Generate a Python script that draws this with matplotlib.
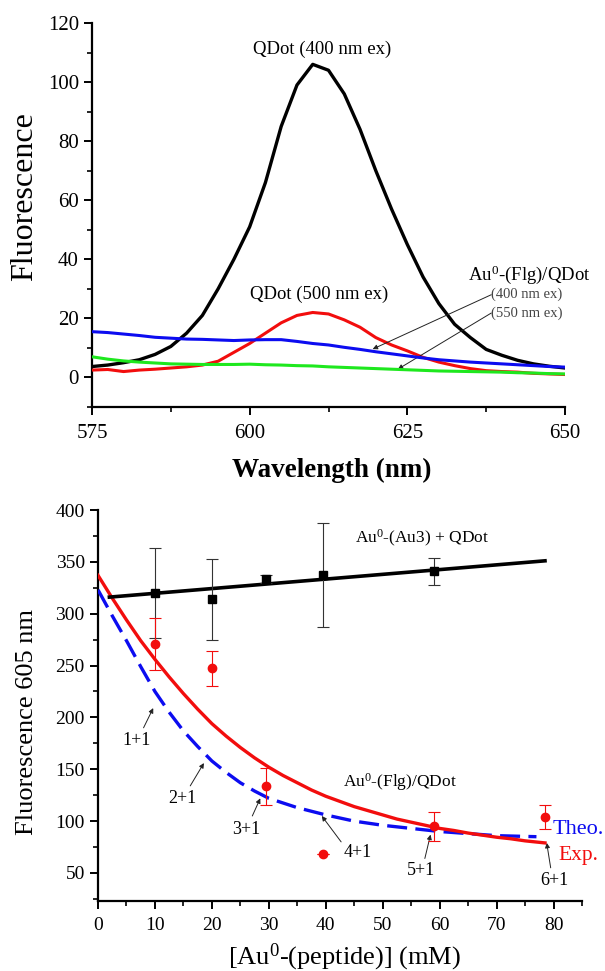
import matplotlib
matplotlib.use("Agg")
import matplotlib.pyplot as plt
from matplotlib.ticker import MultipleLocator

plt.rcParams['font.family'] = ['Liberation Serif', 'DejaVu Serif']
plt.rcParams['mathtext.fontset'] = 'custom'
plt.rcParams['mathtext.rm'] = 'Liberation Serif'
plt.rcParams['mathtext.it'] = 'Liberation Serif:italic'
plt.rcParams['mathtext.bf'] = 'Liberation Serif:bold'

# ---------------- Top panel data (emission spectra) ----------------
wavelength = [575, 577.5, 580, 582.5, 585, 587.5, 590, 592.5, 595, 597.5, 600,
              602.5, 605, 607.5, 610, 612.5, 615, 617.5, 620, 622.5, 625,
              627.5, 630, 632.5, 635, 637.5, 640, 642.5, 645, 647.5, 650]
qdot_400 = [3.7, 4.2, 5.0, 6.0, 7.8, 10.5, 15, 21, 30, 40, 51,
            66, 85, 99, 106, 104, 96, 84, 70, 57, 45,
            34, 25, 18, 13.5, 9.5, 7.5, 5.8, 4.6, 3.8, 3.2]
qdot_500 = [2.5, 2.7, 2.0, 2.5, 2.8, 3.2, 3.6, 4.2, 5.5, 8.5, 11.5,
            15, 18.5, 21, 22, 21.5, 19.5, 17, 13.5, 11, 9,
            6.8, 5.2, 4.0, 3.0, 2.3, 2.0, 1.8, 1.4, 1.2, 1.0]
au_flg_400 = [15.5, 15.2, 14.7, 14.2, 13.6, 13.3, 13.0, 12.9, 12.7, 12.5, 12.7,
              12.8, 12.8, 12.2, 11.5, 11.0, 10.2, 9.5, 8.7, 8.0, 7.3,
              6.6, 6.0, 5.6, 5.2, 4.9, 4.6, 4.3, 4.0, 3.7, 3.5]
au_flg_550 = [7.0, 6.2, 5.6, 5.2, 4.9, 4.6, 4.5, 4.4, 4.4, 4.4, 4.5,
              4.3, 4.2, 4.0, 3.9, 3.6, 3.4, 3.2, 3.0, 2.8, 2.6,
              2.4, 2.2, 2.1, 2.0, 1.9, 1.8, 1.6, 1.5, 1.3, 1.2]

# ---------------- Bottom panel data ----------------
conc_pts = [10, 20, 29.5, 39.5, 59, 78.5]
au3_x = [10, 20, 29.5, 39.5, 59]
au3_y = [320, 314, 333.5, 337, 341]
au3_err = [43, 39, 4, 50, 13]
au3_fit_x = [2, 78.5]
au3_fit_y = [316, 351]

exp_y = [270.5, 247.5, 133.5, 68, 95, 104]
exp_err = [25, 17, 18, 0, 14, 11.5]

exp_fit_x = [0, 2.5, 5, 7.5, 10, 12.5, 15, 17.5, 20, 22.5, 25, 27.5, 30, 32.5,
             35, 37.5, 40, 42.5, 45, 47.5, 50, 52.5, 55, 57.5, 60, 62.5, 65,
             67.5, 70, 72.5, 75, 78.5]
exp_fit_y = [337, 315, 294, 274, 256, 239, 223, 208, 194, 182, 171, 161, 152,
             144, 137, 130, 124, 119, 114, 110, 106, 102, 99, 96, 93, 91, 88.5,
             86.5, 84.5, 83, 81, 79]

theo_x = [0, 2.5, 5, 7.5, 10, 12.5, 15, 17.5, 20, 22.5, 25, 27.5, 30, 35,
          40, 45, 50, 55, 60, 65, 70, 77]
theo_y = [323, 298, 274, 249, 225, 205, 187, 172, 158, 147, 137, 129, 122,
          113, 106, 100, 96, 93, 90, 88, 86, 85]

step_labels = ['1+1', '2+1', '3+1', '4+1', '5+1', '6+1']

BLACK = '#000000'
RED = '#f20d0d'
BLUE = '#0c0cf0'
GREEN = '#1ee81e'

W, H = 605, 971
fig = plt.figure(figsize=(W / 100, H / 100), dpi=100)

def px_axes(left, right, top, bottom):
    return fig.add_axes([left / W, 1 - bottom / H, (right - left) / W, (bottom - top) / H])

def style(ax, fs):
    for s in ['top', 'right']:
        ax.spines[s].set_visible(False)
    for s in ['left', 'bottom']:
        ax.spines[s].set_linewidth(1.6)
    ax.tick_params(which='major', direction='out', length=5.5, width=1.4, labelsize=fs, pad=4)
    ax.tick_params(which='minor', direction='out', length=3.5, width=1.2)

# ---------------- Top panel ----------------
ax1 = px_axes(92, 565, 23, 407)
ax1.plot(wavelength, qdot_400, color=BLACK, lw=2.4, zorder=3)
ax1.plot(wavelength, qdot_500, color=RED, lw=2.2, zorder=3)
ax1.plot(wavelength, au_flg_400, color=BLUE, lw=2.2, zorder=4)
ax1.plot(wavelength, au_flg_550, color=GREEN, lw=2.2, zorder=4)
ax1.set_xlim(575, 650)
ax1.set_ylim(-10, 120)
ax1.xaxis.set_major_locator(MultipleLocator(25))
ax1.xaxis.set_minor_locator(MultipleLocator(12.5))
ax1.yaxis.set_major_locator(MultipleLocator(20))
ax1.yaxis.set_minor_locator(MultipleLocator(10))
style(ax1, 15)
ax1.tick_params(axis='x', pad=7)

ax1.text(611.5, 111, 'QDot (400 nm ex)', ha='center', va='center', fontsize=13.5)
ax1.text(611, 28, 'QDot (500 nm ex)', ha='center', va='center', fontsize=13.5)
ax1.text(634.6, 34.8, r'Au$^0$-(Flg)/QDot', ha='left', va='center', fontsize=13.5, clip_on=False)
ax1.text(638.3, 28, '(400 nm ex)', ha='left', va='center', fontsize=10.5, color='#444444', clip_on=False)
ax1.text(638.3, 21.8, '(550 nm ex)', ha='left', va='center', fontsize=10.5, color='#444444', clip_on=False)
arrow_kw = dict(arrowstyle='-|>', color='#222222', lw=0.7, mutation_scale=7, shrinkA=0, shrinkB=0)
ax1.annotate('', xy=(619.5, 9.6), xytext=(638.3, 28), arrowprops=arrow_kw)
ax1.annotate('', xy=(623.5, 2.8), xytext=(638.3, 21.8), arrowprops=arrow_kw)

fig.text(25 / W, 1 - 197 / H, 'Fluorescence', rotation=90, ha='center', va='center', fontsize=23)
fig.text(332 / W, 1 - 470 / H, 'Wavelength (nm)', ha='center', va='center', fontsize=19.5,
         fontweight='bold')

# ---------------- Bottom panel ----------------
ax2 = px_axes(98, 582, 510, 901)
ax2.plot(theo_x, theo_y, color=BLUE, lw=2.4, dashes=(6, 2.5), zorder=3)
ax2.plot(exp_fit_x, exp_fit_y, color=RED, lw=2.4, zorder=4)
ax2.plot(au3_fit_x, au3_fit_y, color=BLACK, lw=2.6, zorder=4)
ax2.errorbar(au3_x, au3_y, yerr=au3_err, fmt='s', color=BLACK, ms=6,
             ecolor='#333333', elinewidth=0.8, capsize=4, capthick=0.8, zorder=5)
ax2.errorbar(conc_pts, exp_y, yerr=exp_err, fmt='o', color=RED, ms=6,
             ecolor=RED, elinewidth=0.8, capsize=4, capthick=0.8, zorder=5)
ax2.set_xlim(0, 85)
ax2.set_ylim(23, 400)
ax2.xaxis.set_major_locator(MultipleLocator(10))
ax2.xaxis.set_minor_locator(MultipleLocator(5))
ax2.yaxis.set_major_locator(MultipleLocator(50))
ax2.yaxis.set_minor_locator(MultipleLocator(25))
ax2.set_yticks([50, 100, 150, 200, 250, 300, 350, 400])
style(ax2, 14)
ax2.tick_params(axis='x', pad=6)

ax2.text(57, 373, r'Au$^0$-(Au3) + QDot', ha='center', va='center', fontsize=12.5)
ax2.text(53, 138, r'Au$^0$-(Flg)/QDot', ha='center', va='center', fontsize=12.5)
ax2.text(79.8, 92, 'Theo.', ha='left', va='center', fontsize=16, color=BLUE, clip_on=False)
ax2.text(80.8, 67, 'Exp.', ha='left', va='center', fontsize=15.5, color=RED, clip_on=False)

label_pos = [(6.7, 178), (14.8, 122), (26, 92), (43.2, 70), (56.7, 52), (80.2, 43)]
tails = [(8, 190), (16.2, 134), (27.1, 105), (42, 81), (57.4, 64), (79.5, 55)]
tips = [(9.7, 209), (18.6, 156), (28.5, 122), (39.3, 105), (58.4, 87), (78.8, 79)]
for lab, lp, tl, tp in zip(step_labels, label_pos, tails, tips):
    ha = 'left' if lab == '4+1' else 'center'
    ax2.text(lp[0], lp[1], lab, ha=ha, va='center', fontsize=13, clip_on=False)
    if lab != '4+1':
        ax2.annotate('', xy=tp, xytext=tl, arrowprops=arrow_kw)
    else:
        ax2.annotate('', xy=tp, xytext=(lp[0] - 0.5, lp[1] + 10), arrowprops=arrow_kw)

fig.text(27 / W, 1 - 722 / H, 'Fluorescence 605 nm', rotation=90, ha='center', va='center', fontsize=19)
fig.text(344 / W, 1 - 957 / H, r'[Au$^0$-(peptide)] (mM)', ha='center', va='center', fontsize=19)

fig.savefig('out.png', dpi=100)
